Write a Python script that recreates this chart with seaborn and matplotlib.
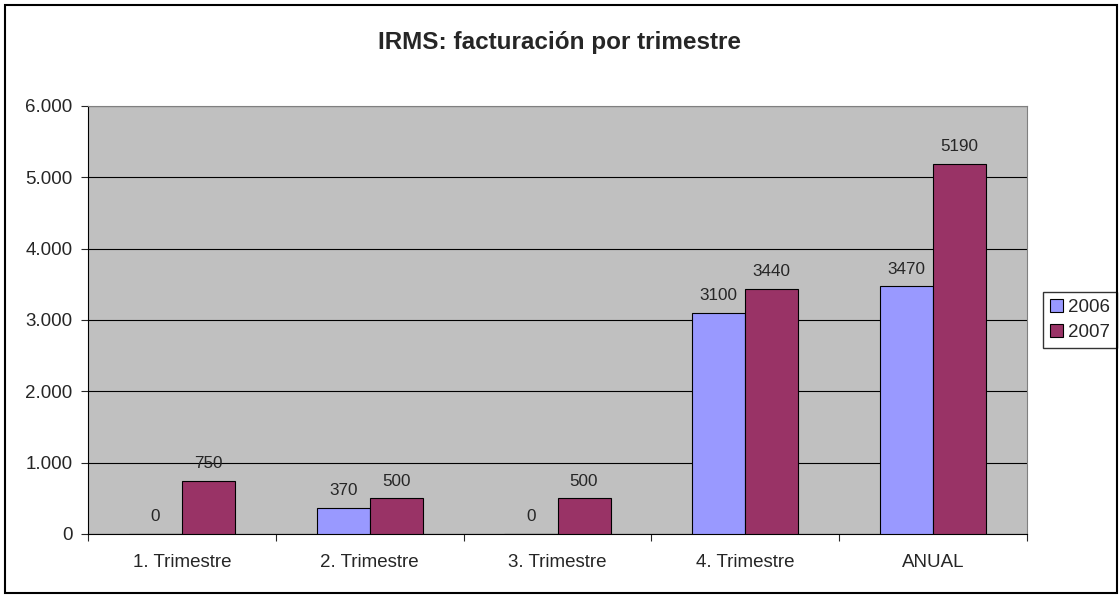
import matplotlib
matplotlib.use("Agg")
import matplotlib.pyplot as plt
import matplotlib.ticker as mticker
import seaborn as sns
import pandas as pd

trimestres = ["1. Trimestre", "2. Trimestre", "3. Trimestre", "4. Trimestre", "ANUAL"]
fact_2006 = [0, 370, 0, 3100, 3470]
fact_2007 = [750, 500, 500, 3440, 5190]
years = ["2006", "2007"]

df = pd.DataFrame({
    "trimestre": trimestres * 2,
    "year": [years[0]] * 5 + [years[1]] * 5,
    "valor": fact_2006 + fact_2007,
})

sns.set_style("white")
plt.rcParams["font.family"] = ["Liberation Sans", "DejaVu Sans"]

fig = plt.figure(figsize=(11.2, 5.96), dpi=100)
ax = fig.add_axes([88 / 1120, 1 - 534 / 596, (1027 - 88) / 1120, (534 - 106) / 596])

# outer chart border
fig.patches.append(plt.Rectangle((5 / 1120, 3 / 596), 1112 / 1120, 588 / 596,
                                 transform=fig.transFigure, fill=False,
                                 edgecolor="black", linewidth=1.5))

sns.barplot(data=df, x="trimestre", y="valor", hue="year",
            palette=["#9999FF", "#993366"], width=0.565,
            edgecolor="black", linewidth=0.8, saturation=1, ax=ax, zorder=3)

ax.set_facecolor("#C0C0C0")
ax.set_ylim(0, 6000)
ax.set_xlim(-0.5, 4.5)
ax.yaxis.set_major_locator(mticker.MultipleLocator(1000))
ax.yaxis.set_major_formatter(mticker.FuncFormatter(lambda v, p: f"{int(v):,}".replace(",", ".")))
ax.grid(axis="y", color="black", linewidth=0.8, zorder=1)
ax.set_axisbelow(True)
for side in ["top", "right"]:
    ax.spines[side].set_color("#808080")
for side in ["left", "bottom"]:
    ax.spines[side].set_color("black")

ax.set_xlabel("")
ax.set_ylabel("")
ax.tick_params(axis="y", which="major", left=True, length=5, width=0.8, labelsize=13.5, pad=6)
ax.tick_params(axis="x", which="major", bottom=False, labelsize=13.5, pad=11)
ax.xaxis.set_minor_locator(mticker.FixedLocator([i - 0.5 for i in range(6)]))
ax.tick_params(axis="x", which="minor", bottom=True, length=5, width=0.8)

for cont in ax.containers:
    ax.bar_label(cont, labels=[f"{int(v)}" for v in cont.datavalues],
                 padding=7, fontsize=12.3)

ax.legend(loc="center left", bbox_to_anchor=(1.017, 0.5), frameon=True,
          fancybox=False, edgecolor="black", fontsize=13.5, handlelength=0.7,
          handleheight=0.7, handletextpad=0.3, borderpad=0.35, labelspacing=0.45,
          borderaxespad=0)

fig.text(0.5, 1 - 42 / 596, "IRMS: facturación por trimestre", ha="center",
         va="center", fontsize=17.5, fontweight="bold")

fig.savefig("out.png", dpi=100)
